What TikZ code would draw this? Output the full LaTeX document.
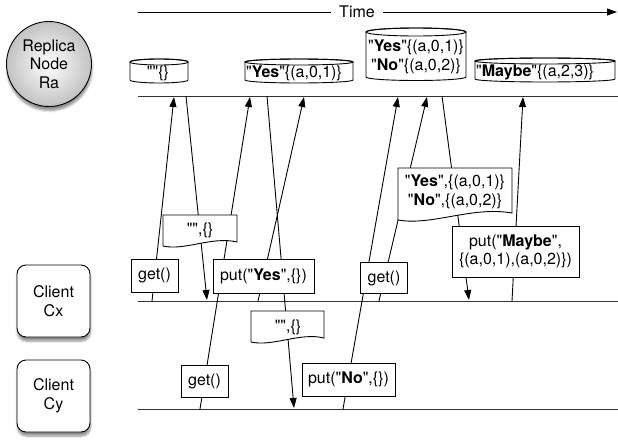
\documentclass[tikz,border=0pt]{standalone}
\usepackage{fontspec}
\setmainfont{TeX Gyre Heros}[Ligatures=TeXOff]
\usetikzlibrary{arrows.meta,shadows.blur}
\begin{document}
\begin{tikzpicture}[x=1pt,y=-1pt,
  every node/.style={font=\fontsize{16}{18.5}\selectfont},
  lw/.style={line width=0.9pt},
  conn/.style={lw,-{Triangle[length=10pt,width=7pt]}},
  tline/.style={lw,black!80},
  msgbox/.style={draw,lw,fill=white,inner sep=0pt,align=center},
  docshape/.style={draw,lw,fill=white},
  cylshape/.style={draw,lw,fill=white},
  plaintext/.style={inner sep=0pt,align=center},
  client/.style={draw,lw,fill=white,rounded corners=9pt,minimum width=73pt,minimum height=72pt,align=center,
    blur shadow={shadow xshift=0.5pt,shadow yshift=-4pt,shadow blur steps=8,shadow opacity=45}},
  replica/.style={circle,draw,lw,minimum size=85pt,inner sep=0pt,align=center,
    inner color=white,outer color=black!24,
    blur shadow={shadow xshift=0.5pt,shadow yshift=-4pt,shadow blur steps=8,shadow opacity=45}}
]
\useasboundingbox (0,0) rectangle (618,439);

% Time axis
\coordinate (t0) at (138,12);
\coordinate (t1) at (617,12);
\draw[lw,-{Triangle[length=10pt,width=7pt]}] (t0) -- (t1);
\node[fill=white,inner xsep=8pt,inner ysep=1pt] (time) at (357,12) {Time};

% side labels
\node[replica] (ra) at (49,64) {Replica\\Node\\Ra};
\node[client] (cx) at (53.5,301) {Client\\Cx};
\node[client] (cy) at (53.5,396) {Client\\Cy};

% timelines
\coordinate (raL) at (138,96);  \coordinate (raR) at (618,96);
\coordinate (cxL) at (138,301); \coordinate (cxR) at (618,301);
\coordinate (cyL) at (138,409); \coordinate (cyR) at (618,409);
\draw[tline] (raL) -- (raR);
\draw[tline] (cxL) -- (cxR);
\draw[tline] (cyL) -- (cyR);

% connector end points
\coordinate (a1s) at (152,301); \coordinate (a1e) at (174,97);
\coordinate (a2s) at (186,96);  \coordinate (a2e) at (207,300);
\coordinate (a3s) at (200,409); \coordinate (a3e) at (250,97);
\coordinate (a4s) at (258,301); \coordinate (a4e) at (304,97);
\coordinate (a5s) at (267,96);  \coordinate (a5e) at (294,408);
\coordinate (a6s) at (343,409); \coordinate (a6e) at (398,97);
\coordinate (a7s) at (379,301); \coordinate (a7e) at (427,97);
\coordinate (a8s) at (442,96);  \coordinate (a8e) at (469,300);
\coordinate (a9s) at (512,301); \coordinate (a9e) at (523,97);
\foreach \i in {1,...,9} { \draw[conn] (a\i s) -- (a\i e); }

% cylinders (replica states)
\draw[cylshape] (130,62) -- (130,80) arc[start angle=180,end angle=0,x radius=29,y radius=3] -- (188,62) arc[start angle=360,end angle=180,x radius=29,y radius=3] -- cycle;
\draw[lw] (159,62) ellipse[x radius=29,y radius=3];
\node[plaintext] (s1) at (158,73) {""\{\}};

\draw[cylshape] (245,62) -- (245,80) arc[start angle=180,end angle=0,x radius=54,y radius=3] -- (353,62) arc[start angle=360,end angle=180,x radius=54,y radius=3] -- cycle;
\draw[lw] (299,62) ellipse[x radius=54,y radius=3];
\node[plaintext,anchor=west] (s2) at (246,73) {"\textbf{Yes}"\{(a,0,1)\}};

\draw[cylshape] (366,32) -- (366,77) arc[start angle=180,end angle=0,x radius=50,y radius=3.5] -- (466,32) arc[start angle=360,end angle=180,x radius=50,y radius=4] -- cycle;
\draw[lw] (416,32) ellipse[x radius=50,y radius=4];
\node[plaintext] (s3) at (416,57) {"\textbf{Yes}"\{(a,0,1)\}\\"\textbf{No}"\{(a,0,2)\}};

\draw[cylshape] (475,61) -- (475,79) arc[start angle=180,end angle=0,x radius=70,y radius=3] -- (615,61) arc[start angle=360,end angle=180,x radius=70,y radius=3] -- cycle;
\draw[lw] (545,61) ellipse[x radius=70,y radius=3];
\node[plaintext,anchor=west] (s4) at (476,72) {"\textbf{Maybe}"\{(a,2,3)\}};

% documents (responses)
\draw[docshape] (163,215) -- (237,215) -- (237,242) .. controls (212,236) and (185,251) .. (163,246) -- cycle;
\node[plaintext] (d1) at (200,230) {"",\{\}};

\draw[docshape] (251,311) -- (324,311) -- (324,338) .. controls (300,332) and (273,347) .. (251,342) -- cycle;
\node[plaintext] (d2) at (288,327) {"",\{\}};

\draw[docshape] (398,168) -- (512,168) -- (512,213) .. controls (472,206) and (432,226) .. (398,220) -- cycle;
\node[plaintext] (d3) at (455,192) {"\textbf{Yes}",\{(a,0,1)\}\\"\textbf{No}",\{(a,0,2)\}};

% requests
\node[msgbox,minimum width=47pt,minimum height=33pt] (g1) at (154.5,275.5) {get()};
\node[msgbox,minimum width=101pt,minimum height=34pt] (p1) at (263.5,276) {put("\textbf{Yes}",\{\})};
\node[msgbox,minimum width=47pt,minimum height=31pt] (g2) at (384,278) {get()};
\node[msgbox,minimum width=127pt,minimum height=51pt] (p2) at (515.5,251.5) {put("\textbf{Maybe}",\\\{(a,0,1),(a,0,2)\})};
\node[msgbox,minimum width=47pt,minimum height=32pt] (g3) at (204.5,381) {get()};
\node[msgbox,minimum width=93pt,minimum height=33pt] (p3) at (348.5,379.5) {put("\textbf{No}",\{\})};
\end{tikzpicture}
\end{document}
